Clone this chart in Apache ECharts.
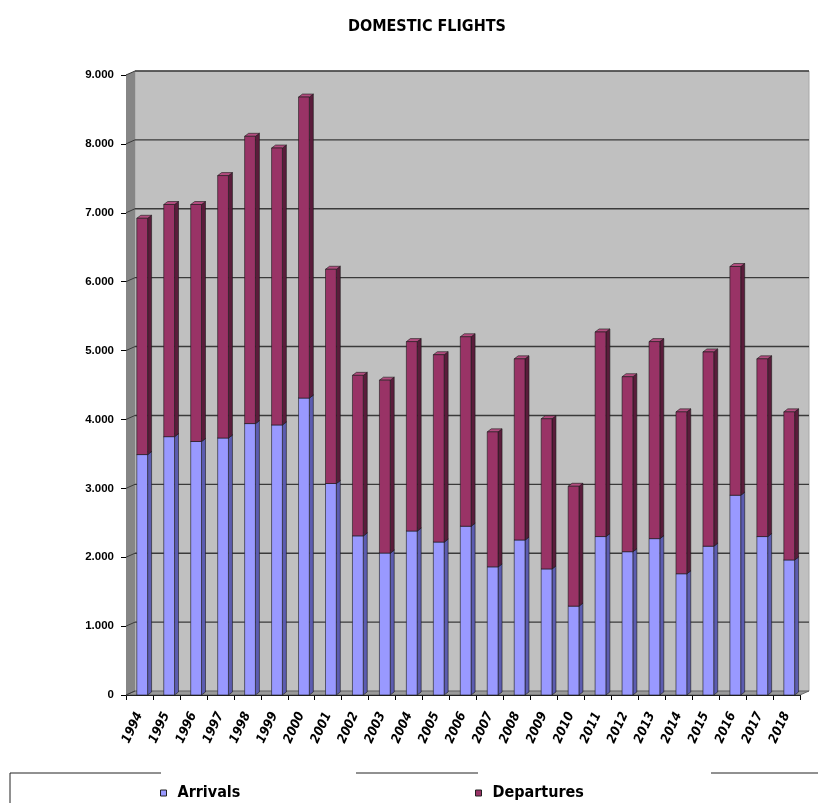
<!DOCTYPE html>
<html>
<head>
<meta charset="utf-8">
<script src="https://cdn.jsdelivr.net/npm/echarts@6/dist/echarts.min.js"></script>
<style>
html, body { margin: 0; padding: 0; background: #ffffff; }
#chart { width: 818px; height: 803px; }
</style>
</head>
<body>
<div id="chart"></div>
<script>
// Domestic flights per year, split into arrivals and departures
const years = ['1994','1995','1996','1997','1998','1999','2000','2001','2002','2003','2004','2005','2006',
               '2007','2008','2009','2010','2011','2012','2013','2014','2015','2016','2017','2018'];
const arrivals   = [3490, 3750, 3680, 3730, 3940, 3920, 4310, 3070, 2310, 2060, 2380, 2220, 2450,
                    1860, 2250, 1830, 1290, 2300, 2080, 2270, 1760, 2160, 2900, 2300, 1960];
const departures = [3430, 3370, 3440, 3810, 4170, 4020, 4370, 3110, 2330, 2510, 2750, 2720, 2750,
                    1960, 2630, 2180, 1740, 2970, 2540, 2860, 2350, 2820, 3320, 2580, 2150];
const yTicks = [0, 1000, 2000, 3000, 4000, 5000, 6000, 7000, 8000, 9000];

// depth of the box (walls / floor) and of each bar
const WALL_DX = 9, WALL_DY = -4;
const BAR_DX = 4, BAR_DY = -3;

const colors = {
  arrivals:   { front: '#9999ff', side: '#5c5cb0', top: '#b3b3ff' },
  departures: { front: '#993366', side: '#5a1c3b', top: '#b24d7f' }
};

const HEAVY = 'DejaVu Sans Condensed';

function fmt(v) {
  if (v === 0) return '0';
  return Math.floor(v / 1000) + '.' + String(v % 1000).padStart(3, '0');
}

// stacked data: [index, base, top]
const arrData = arrivals.map((v, i) => [i, 0, v]);
const depData = departures.map((v, i) => [i, arrivals[i], arrivals[i] + v]);

function barRenderer(c) {
  return function (params, api) {
    const i = api.value(0);
    const p0 = api.coord([i, api.value(1)]);
    const p1 = api.coord([i, api.value(2)]);
    const band = api.size([1, 0])[0];
    const w = band * 0.4;
    const x = p0[0] - w / 2 + band * 0.1;
    const yTop = p1[1], yBot = p0[1];
    const stroke = { stroke: '#1a1a1a', lineWidth: 0.6 };
    return {
      type: 'group',
      children: [
        { type: 'polygon', shape: { points: [[x + w, yTop], [x + w + BAR_DX, yTop + BAR_DY], [x + w + BAR_DX, yBot + BAR_DY], [x + w, yBot]] },
          style: Object.assign({ fill: c.side }, stroke) },
        { type: 'polygon', shape: { points: [[x, yTop], [x + BAR_DX, yTop + BAR_DY], [x + w + BAR_DX, yTop + BAR_DY], [x + w, yTop]] },
          style: Object.assign({ fill: c.top }, stroke) },
        { type: 'rect', shape: { x: x, y: yTop, width: w, height: yBot - yTop },
          style: Object.assign({ fill: c.front }, stroke) }
      ]
    };
  };
}

// back wall, side wall, floor and gridlines
function frameRenderer(params, api) {
  const cs = params.coordSys;
  const x = cs.x, y = cs.y, w = cs.width, h = cs.height;
  const children = [];
  children.push({ type: 'rect', shape: { x: x + WALL_DX, y: y + WALL_DY, width: w, height: h },
    style: { fill: '#c0c0c0', stroke: '#a8a8a8', lineWidth: 1 } });
  children.push({ type: 'polygon', shape: { points: [[x, y], [x + WALL_DX, y + WALL_DY], [x + WALL_DX, y + h + WALL_DY], [x, y + h]] },
    style: { fill: '#868686' } });
  children.push({ type: 'polygon', shape: { points: [[x, y + h], [x + WALL_DX, y + h + WALL_DY], [x + w + WALL_DX, y + h + WALL_DY], [x + w, y + h]] },
    style: { fill: '#9a9a9a', stroke: '#555', lineWidth: 0.8 } });
  yTicks.forEach(v => {
    const yy = api.coord([0, v])[1];
    if (v > 0) {
      children.push({ type: 'line', shape: { x1: x + WALL_DX, y1: yy + WALL_DY, x2: x + w + WALL_DX, y2: yy + WALL_DY },
        style: { stroke: '#3a3a3a', lineWidth: 1.4 } });
    }
    children.push({ type: 'line', shape: { x1: x, y1: yy, x2: x + WALL_DX, y2: yy + WALL_DY },
      style: { stroke: '#3a3a3a', lineWidth: 1 } });
  });
  return { type: 'group', children: children };
}

const chart = echarts.init(document.getElementById('chart'), null, { renderer: 'canvas' });

const legendText = { fontFamily: HEAVY, fontWeight: 'bold', fontSize: 16, color: '#000', padding: [0, 0, 0, 6] };

chart.setOption({
  animation: false,
  backgroundColor: '#ffffff',
  title: {
    text: 'DOMESTIC FLIGHTS',
    left: 343, top: 14,
    textStyle: { fontFamily: HEAVY, fontWeight: 'bold', fontSize: 16, color: '#000' }
  },
  grid: { left: 126, right: 18, top: 75, bottom: 108, containLabel: false },
  xAxis: {
    type: 'category',
    data: years,
    axisLine: { lineStyle: { color: '#000', width: 1 } },
    axisTick: { show: true, length: 5, lineStyle: { color: '#000' } },
    axisLabel: {
      rotate: 65, margin: 18, interval: 0,
      fontFamily: HEAVY, fontWeight: 'bold', fontStyle: 'italic', fontSize: 13, color: '#000'
    },
    splitLine: { show: false }
  },
  yAxis: {
    type: 'value',
    min: 0, max: 9000, interval: 1000,
    axisLine: { show: true, lineStyle: { color: '#000', width: 1 } },
    axisTick: { show: true, length: 5, lineStyle: { color: '#000' } },
    axisLabel: {
      formatter: fmt, margin: 12,
      fontFamily: 'Liberation Sans', fontWeight: 'bold', fontSize: 11.5, color: '#000'
    },
    splitLine: { show: false }
  },
  legend: [
    {
      data: [{ name: 'Arrivals', itemStyle: { color: '#9999ff', borderColor: '#222', borderWidth: 1 } }],
      left: 155, top: 780, icon: 'rect', itemWidth: 6, itemHeight: 6, itemGap: 10,
      textStyle: legendText
    },
    {
      data: [{ name: 'Departures', itemStyle: { color: '#993366', borderColor: '#222', borderWidth: 1 } }],
      left: 470, top: 780, icon: 'rect', itemWidth: 6, itemHeight: 6, itemGap: 10,
      textStyle: legendText
    }
  ],
  graphic: [
    { type: 'polyline', silent: true, shape: { points: [[10, 803], [10, 773], [161, 773]] }, style: { stroke: '#222', lineWidth: 1, fill: null } },
    { type: 'line', silent: true, shape: { x1: 356, y1: 773, x2: 478, y2: 773 }, style: { stroke: '#222', lineWidth: 1 } },
    { type: 'line', silent: true, shape: { x1: 711, y1: 773, x2: 818, y2: 773 }, style: { stroke: '#222', lineWidth: 1 } }
  ],
  series: [
    {
      type: 'custom', name: 'frame', silent: true, z: 1,
      renderItem: frameRenderer,
      data: [[0, 0]],
      encode: { x: 0, y: 1 }
    },
    {
      type: 'custom', name: 'Arrivals', z: 3,
      itemStyle: { color: colors.arrivals.front },
      renderItem: barRenderer(colors.arrivals),
      data: arrData,
      encode: { x: 0, y: [1, 2] }
    },
    {
      type: 'custom', name: 'Departures', z: 3,
      itemStyle: { color: colors.departures.front },
      renderItem: barRenderer(colors.departures),
      data: depData,
      encode: { x: 0, y: [1, 2] }
    }
  ]
});
</script>
</body>
</html>
